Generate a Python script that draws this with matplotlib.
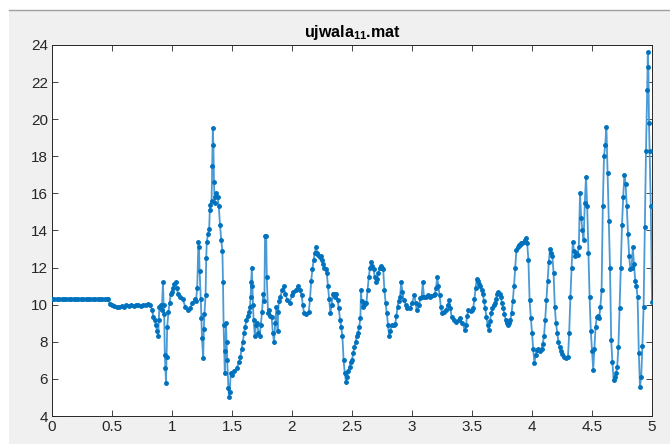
import numpy as np
import matplotlib
matplotlib.use("Agg")
import matplotlib.pyplot as plt
from matplotlib.patches import Rectangle
from matplotlib.lines import Line2D

plt.rcParams['font.family'] = ['Liberation Sans', 'DejaVu Sans']
plt.rcParams['mathtext.fontset'] = 'custom'
plt.rcParams['mathtext.bf'] = 'Liberation Sans:bold'
plt.rcParams['mathtext.rm'] = 'Liberation Sans'

# signal samples (time [s], value)
seg_rest = [(0.00, 10.3), (0.02, 10.3), (0.04, 10.3), (0.06, 10.3), (0.08, 10.3), (0.10, 10.3),
            (0.12, 10.3), (0.14, 10.3), (0.16, 10.3), (0.18, 10.3), (0.20, 10.3), (0.22, 10.3),
            (0.24, 10.3), (0.26, 10.3), (0.28, 10.3), (0.30, 10.3), (0.32, 10.3), (0.34, 10.3),
            (0.36, 10.3), (0.38, 10.3), (0.40, 10.3), (0.42, 10.3), (0.44, 10.3), (0.46, 10.3),
            (0.47, 10.3), (0.48, 10.05), (0.50, 10.0), (0.52, 9.95), (0.54, 9.85), (0.56, 9.9),
            (0.58, 9.95), (0.60, 9.9), (0.62, 10.0), (0.64, 9.95), (0.66, 10.0), (0.68, 9.95),
            (0.70, 10.0), (0.72, 10.0), (0.74, 9.95), (0.76, 10.0), (0.78, 10.0), (0.80, 10.05),
            (0.82, 10.0)]

seg_onset = [(0.835, 9.7), (0.845, 9.35), (0.855, 9.2), (0.865, 8.9), (0.875, 8.6), (0.885, 8.3),
             (0.89, 9.2), (0.895, 9.9), (0.905, 10.0), (0.915, 9.7), (0.925, 11.2), (0.93, 10.0),
             (0.935, 9.5), (0.94, 7.3), (0.945, 6.6), (0.95, 5.8), (0.955, 7.2), (0.96, 8.8),
             (0.97, 9.6), (0.98, 10.1), (0.99, 10.6), (1.00, 10.7), (1.01, 10.9), (1.02, 11.1),
             (1.03, 11.2), (1.04, 10.9), (1.05, 10.6), (1.07, 10.4), (1.09, 10.3), (1.11, 9.9),
             (1.13, 9.7), (1.15, 9.8), (1.17, 10.1), (1.19, 10.3), (1.20, 10.2)]

seg_burst = [(1.21, 10.9), (1.22, 13.4), (1.225, 13.1), (1.23, 11.8), (1.24, 10.3), (1.245, 9.3),
             (1.25, 8.2), (1.26, 7.1), (1.265, 8.7), (1.27, 9.5), (1.28, 10.5), (1.285, 12.5),
             (1.29, 13.4), (1.30, 13.8), (1.31, 14.1), (1.315, 15.1), (1.32, 15.4), (1.33, 15.6),
             (1.335, 17.5), (1.34, 19.5), (1.345, 18.6), (1.35, 16.6), (1.355, 15.5), (1.36, 15.8),
             (1.37, 16.0), (1.38, 15.8), (1.39, 15.3), (1.40, 14.3), (1.41, 13.5), (1.42, 12.9),
             (1.425, 11.2), (1.43, 8.9), (1.44, 6.3), (1.445, 7.5), (1.45, 9.0), (1.455, 8.0),
             (1.46, 7.0), (1.47, 5.5), (1.475, 5.0), (1.48, 5.3), (1.49, 6.3), (1.50, 6.2),
             (1.52, 6.4), (1.54, 6.6), (1.56, 6.9)]

seg_mid = [(1.57, 7.2), (1.58, 7.6), (1.59, 8.0), (1.60, 8.45), (1.61, 8.8), (1.62, 9.2),
           (1.63, 9.4), (1.64, 9.6), (1.65, 9.9), (1.655, 10.4), (1.66, 11.2), (1.665, 12.0),
           (1.67, 11.0), (1.675, 10.0), (1.68, 9.2), (1.69, 8.3), (1.70, 8.9), (1.71, 9.0),
           (1.72, 8.5), (1.73, 8.3), (1.74, 8.9), (1.75, 9.6), (1.76, 10.6), (1.77, 10.2),
           (1.775, 13.7), (1.785, 13.7), (1.79, 11.5), (1.80, 9.55), (1.81, 9.7), (1.82, 9.4),
           (1.83, 9.35), (1.84, 8.5), (1.85, 8.0), (1.86, 9.0), (1.87, 9.9), (1.88, 8.6),
           (1.885, 9.6), (1.89, 10.2), (1.90, 10.4), (1.92, 10.8), (1.93, 11.0), (1.945, 10.6),
           (1.96, 10.25), (1.98, 10.1), (2.00, 10.5), (2.01, 10.7), (2.03, 10.8), (2.05, 11.0),
           (2.065, 10.8), (2.08, 10.5), (2.09, 10.0), (2.10, 9.55), (2.12, 9.5), (2.14, 9.6),
           (2.15, 10.3), (2.16, 11.3), (2.17, 11.9), (2.18, 12.4), (2.19, 12.8), (2.20, 13.1),
           (2.21, 12.8), (2.22, 12.7), (2.23, 12.57), (2.24, 12.6), (2.25, 12.4), (2.26, 12.2),
           (2.27, 12.0), (2.28, 11.9), (2.29, 11.7), (2.30, 11.0), (2.31, 10.3), (2.32, 9.55),
           (2.33, 10.0), (2.34, 10.6), (2.35, 10.6), (2.36, 10.4), (2.37, 10.6), (2.38, 10.25),
           (2.39, 9.8), (2.40, 9.2), (2.41, 8.8), (2.42, 8.3), (2.43, 7.0), (2.44, 6.3),
           (2.45, 5.85), (2.46, 6.1), (2.47, 6.4), (2.48, 6.65), (2.49, 6.9), (2.50, 7.0)]

seg_late1 = [(2.51, 7.4), (2.52, 7.7), (2.53, 8.0), (2.54, 8.3), (2.55, 8.5), (2.56, 8.8),
             (2.57, 9.3), (2.575, 10.8), (2.58, 10.2), (2.59, 9.9), (2.60, 10.0), (2.61, 10.1),
             (2.62, 10.1), (2.63, 10.8), (2.64, 11.5), (2.65, 12.0), (2.66, 12.3), (2.67, 12.1),
             (2.68, 11.9), (2.69, 11.5), (2.70, 11.2), (2.71, 11.4), (2.72, 11.7), (2.73, 12.0),
             (2.74, 12.1), (2.75, 12.0), (2.76, 11.9), (2.77, 10.8), (2.78, 10.1), (2.79, 9.55),
             (2.80, 8.9), (2.81, 8.3), (2.82, 8.6), (2.83, 8.9), (2.85, 8.9), (2.86, 8.95),
             (2.87, 9.4), (2.88, 9.9), (2.89, 10.2), (2.90, 10.4), (2.91, 11.2), (2.92, 10.7),
             (2.93, 10.25), (2.95, 10.0), (2.96, 9.8), (2.98, 9.8), (3.00, 10.1), (3.02, 10.5),
             (3.03, 10.1), (3.04, 9.7), (3.06, 10.0), (3.07, 10.35), (3.08, 10.4), (3.09, 11.2),
             (3.10, 10.4), (3.12, 10.4), (3.13, 10.5), (3.15, 10.4), (3.16, 10.45), (3.18, 10.5),
             (3.19, 10.6), (3.20, 10.9), (3.21, 11.5), (3.22, 11.0), (3.23, 10.5), (3.24, 9.9),
             (3.25, 9.55), (3.27, 9.6), (3.28, 9.7), (3.30, 10.0), (3.31, 10.25), (3.32, 9.8),
             (3.33, 9.35), (3.35, 9.2)]

seg_late2 = [(3.37, 9.07), (3.39, 9.2), (3.40, 9.3), (3.42, 9.0), (3.44, 8.64), (3.45, 8.9),
             (3.46, 9.4), (3.47, 9.7), (3.49, 9.65), (3.50, 9.7), (3.51, 9.8), (3.52, 10.3),
             (3.53, 10.9), (3.54, 11.4), (3.55, 11.3), (3.56, 11.1), (3.57, 11.0), (3.58, 10.8),
             (3.59, 10.6), (3.60, 10.2), (3.61, 9.8), (3.62, 9.35), (3.63, 8.9), (3.64, 8.64),
             (3.65, 9.1), (3.66, 9.55), (3.67, 9.8), (3.68, 10.0), (3.69, 10.1), (3.70, 10.3),
             (3.71, 10.6), (3.72, 10.7), (3.73, 10.6), (3.74, 10.4), (3.75, 10.1), (3.76, 9.8),
             (3.77, 9.5), (3.78, 9.2), (3.79, 9.0), (3.80, 8.9), (3.81, 9.0), (3.82, 9.2),
             (3.83, 9.55), (3.84, 10.2), (3.85, 11.0), (3.86, 12.0), (3.87, 12.95), (3.88, 13.1),
             (3.89, 13.2), (3.90, 13.2), (3.91, 13.3), (3.92, 13.35), (3.93, 13.4), (3.94, 13.5),
             (3.95, 13.6), (3.96, 13.3), (3.97, 12.4), (3.98, 10.25), (3.99, 9.3), (4.00, 8.5),
             (4.01, 7.6), (4.02, 6.85), (4.03, 7.3), (4.04, 7.55), (4.05, 7.6), (4.07, 7.5),
             (4.08, 7.6), (4.09, 7.9), (4.10, 8.3), (4.11, 9.2), (4.12, 10.25), (4.13, 11.3),
             (4.14, 12.3), (4.15, 13.0), (4.16, 12.8), (4.17, 12.6)]

seg_late3 = [(4.18, 11.7), (4.19, 9.9), (4.20, 9.0), (4.21, 8.5), (4.22, 8.0), (4.23, 7.7),
             (4.24, 7.5), (4.25, 7.35), (4.27, 7.2), (4.28, 7.15), (4.30, 7.2), (4.31, 8.5),
             (4.32, 10.4), (4.33, 12.0), (4.34, 13.4), (4.35, 12.9), (4.36, 12.6), (4.37, 12.8),
             (4.38, 12.7), (4.39, 13.1), (4.40, 16.0), (4.41, 14.7), (4.42, 14.0), (4.43, 13.5),
             (4.44, 15.5), (4.45, 16.9), (4.46, 15.3), (4.47, 12.8), (4.48, 10.4), (4.49, 8.6),
             (4.50, 7.5), (4.51, 6.5), (4.52, 7.6), (4.53, 8.8), (4.54, 9.35), (4.55, 9.4),
             (4.56, 9.3), (4.57, 9.9), (4.58, 10.8), (4.59, 15.3), (4.60, 18.0), (4.61, 18.6),
             (4.62, 19.6), (4.63, 17.1), (4.64, 14.5), (4.65, 12.0), (4.66, 8.1), (4.67, 6.9),
             (4.68, 5.95), (4.69, 6.1), (4.70, 6.3), (4.71, 6.65), (4.72, 7.7), (4.73, 9.8),
             (4.74, 12.0), (4.75, 14.3), (4.76, 15.8), (4.77, 17.0), (4.78, 16.5), (4.79, 15.3),
             (4.80, 13.8), (4.81, 12.6), (4.82, 11.9), (4.83, 12.0), (4.84, 13.1), (4.85, 12.2),
             (4.86, 11.3), (4.87, 11.0), (4.88, 10.4), (4.89, 7.4), (4.90, 5.55), (4.91, 6.1),
             (4.92, 7.8), (4.93, 9.9), (4.94, 14.2), (4.95, 18.3), (4.96, 21.6), (4.965, 23.6),
             (4.97, 22.8), (4.975, 19.8), (4.98, 18.3), (4.99, 15.3), (5.00, 10.15)]

segments = [seg_rest, seg_onset, seg_burst, seg_mid, seg_late1, seg_late2, seg_late3]
t, v = np.array([p for s in segments for p in s]).T

xticks = [0, 0.5, 1, 1.5, 2, 2.5, 3, 3.5, 4, 4.5, 5]
xlabels = ["0", "0.5", "1", "1.5", "2", "2.5", "3", "3.5", "4", "4.5", "5"]
yticks = [4, 6, 8, 10, 12, 14, 16, 18, 20, 22, 24]

fig = plt.figure(figsize=(6.7, 4.44), dpi=100, facecolor="white")
# grey window background + top border
fig.add_artist(Rectangle((9 / 670, 0.0), 1.0, 1 - 10 / 444, transform=fig.transFigure,
                         facecolor="#f0f0f0", edgecolor="none", zorder=-10))
fig.add_artist(Line2D([9 / 670, 1.0], [1 - 10 / 444, 1 - 10 / 444], transform=fig.transFigure,
                      color="#a0a0a0", lw=1.0))

ax = fig.add_axes([52 / 670, 1 - 416 / 444, 600 / 670, 371 / 444])
ax.set_facecolor("white")
ax.plot(t, v, color="#4a9ad6", lw=1.3, zorder=2)
ax.plot(t, v, linestyle="none", color="#0072BD", marker=".", markersize=5, zorder=3)

ax.set_xlim(0, 5)
ax.set_ylim(4, 24)
ax.set_xticks(xticks)
ax.set_xticklabels(xlabels)
ax.set_yticks(yticks)
ax.tick_params(direction="in", length=4, width=0.6, top=True, right=True,
               labelsize=11, colors="#262626", pad=3)
for sp in ax.spines.values():
    sp.set_color("#262626")
    sp.set_linewidth(0.7)

ax.set_title(r"ujwala$_{\mathbf{11}}$.mat", fontsize=11.5, fontweight="bold",
             color="#000000", pad=6)

fig.savefig("out.png", dpi=100, facecolor=fig.get_facecolor())
